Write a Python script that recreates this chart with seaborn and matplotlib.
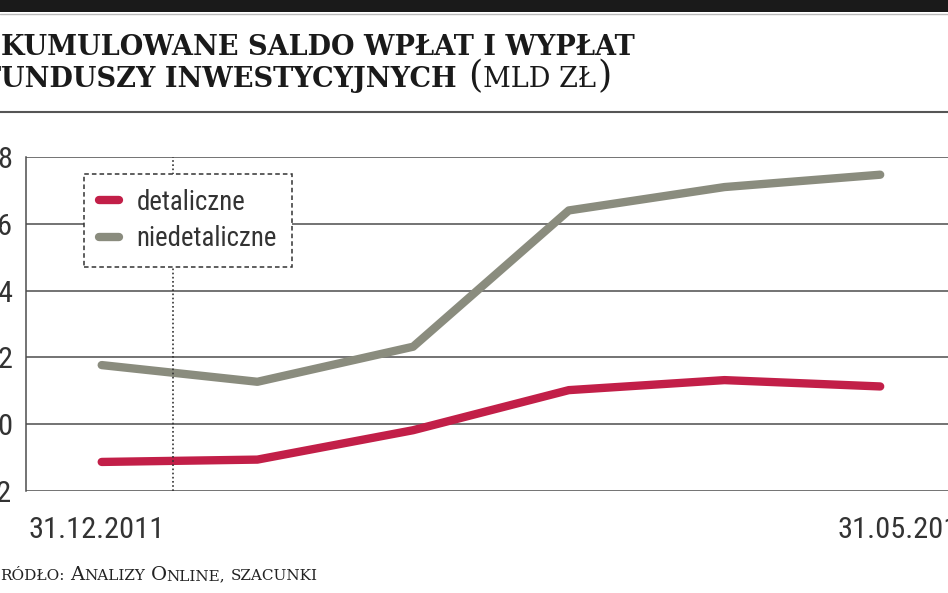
"""
plot.py
Skumulowane saldo wpłat i wypłat funduszy inwestycyjnych (mld zł), line chart.
"""

import numpy as np
import pandas as pd
import matplotlib
matplotlib.use("Agg")
import matplotlib.pyplot as plt
import seaborn as sns
from matplotlib import font_manager
from matplotlib.lines import Line2D
from matplotlib.patches import Rectangle
from matplotlib.textpath import TextPath

# --- data -------------------------------------------------------------------
dates         = ["31.12.2011", "31.01.2012", "29.02.2012",
                 "31.03.2012", "30.04.2012", "31.05.2012"]
detaliczne    = [-1.13, -1.06, -0.18, 1.02, 1.32, 1.13]
niedetaliczne = [1.77, 1.27, 2.32, 6.40, 7.10, 7.47]
series_names  = ["detaliczne", "niedetaliczne"]
series_colors = ["#c21f48", "#8a8c7e"]
y_ticks       = [-2, 0, 2, 4, 6, 8]
x_labels      = ["31.12.2011", "31.05.2012"]

# --- canvas -----------------------------------------------------------------
W, H, DPI = 948, 593, 100
sns.set_style("white")

names  = {f.name for f in font_manager.fontManager.ttflist}
NARROW = next((n for n in ["Liberation Sans Narrow", "DejaVu Sans Condensed",
                           "Roboto Condensed", "Roboto"] if n in names), "DejaVu Sans")
SERIF  = "DejaVu Serif"
plt.rcParams["font.family"] = [NARROW, "DejaVu Sans"]


def fit_size(text, target_px, **font):
    """Font size (pt) that gives `text` an ink width of target_px."""
    fp = font_manager.FontProperties(**font)
    w = TextPath((0, 0), text, size=100, prop=fp).get_extents().width
    return target_px / w * 100 * 72 / DPI


tick_fs   = fit_size("31.12.2011", 129, family=NARROW)
legend_fs = fit_size("niedetaliczne", 138, family=NARROW)
title_fs  = fit_size("KUMULOWANE SALDO WPŁAT I WYPŁAT", 632, family=SERIF, weight="bold")

fig = plt.figure(figsize=(W / DPI, H / DPI), dpi=DPI)
fig.patch.set_facecolor("white")

# plot area: left spine at x=26px, y=8 at 157px, y=-2 at 491px
ax = fig.add_axes([26 / W, (H - 491) / H, (W - 26) / W, 334 / H])

df = pd.DataFrame({
    "i":     list(range(len(dates))) * 2,
    "data":  dates * 2,
    "saldo": detaliczne + niedetaliczne,
    "typ":   [series_names[0]] * len(dates) + [series_names[1]] * len(dates),
})

sns.lineplot(
    data=df, x="i", y="saldo", hue="typ",
    palette=dict(zip(series_names, series_colors)),
    lw=6, solid_capstyle="round", solid_joinstyle="round",
    legend=False, ax=ax, zorder=2,
)

step = 155.7
ax.set_xlim((26 - 101.7) / step, (W - 101.7) / step)
ax.set_ylim(y_ticks[0], y_ticks[-1])
ax.set_yticks(y_ticks)
ax.set_xticks([])
ax.set_xlabel("")
ax.set_ylabel("")
ax.yaxis.grid(True, color="#4d4d4d", lw=1.1)
ax.xaxis.grid(False)
for side in ["top", "right", "bottom"]:
    ax.spines[side].set_visible(False)
ax.spines["left"].set_color("#4d4d4d")
ax.spines["left"].set_linewidth(1.1)
ax.tick_params(axis="y", length=0, pad=10, labelsize=tick_fs, labelcolor="#333333")

# dotted marker line between the first two points
ax.axvline((173 - 101.7) / step, color="#333333", lw=1.2, ls=(0, (1, 1.5)), zorder=3)

# x labels under the first and last point
for x, lab in zip([(28 - 101.7) / step, (837 - 101.7) / step], x_labels):
    ax.annotate(lab, xy=(x, y_ticks[0]), xytext=(0, -34), textcoords="offset points",
                ha="left", va="baseline", fontsize=tick_fs, color="#333333",
                annotation_clip=False)

# legend
handles = [Line2D([], [], color=c, lw=6, solid_capstyle="round") for c in series_colors]
leg = ax.legend(
    handles, series_names, loc="upper left",
    bbox_to_anchor=((84 - 26) / (W - 26), (491 - 174) / 334), borderaxespad=0,
    fancybox=False, framealpha=1, edgecolor="#333333",
    fontsize=legend_fs, handlelength=0.75, handletextpad=0.65,
    borderpad=0.55, labelspacing=0.35,
)
leg.get_frame().set_linestyle((0, (3, 2)))
leg.get_frame().set_linewidth(1.1)
for t in leg.get_texts():
    t.set_color("#333333")
leg.set_zorder(5)


def chain(pieces, x_px, y_px):
    """First piece ends at x_px (cut by the edge), the rest follow on one baseline."""
    s, kw = pieces[0]
    prev = fig.text(x_px / W, 1 - y_px / H, s, ha="right", va="baseline", **kw)
    for s, kw, gap in pieces[1:]:
        prev = ax.annotate(s, xy=(1, 1 - y_px / H), xycoords=(prev, "figure fraction"),
                           xytext=(gap, 0), textcoords="offset points",
                           ha="left", va="baseline", annotation_clip=False, **kw)


bold = dict(family=SERIF, weight="bold", fontsize=title_fs, color="#1a1a1a")
reg  = dict(family=SERIF, fontsize=title_fs, color="#1a1a1a")
par  = dict(family=SERIF, fontsize=title_fs * 1.35, color="#1a1a1a", weight="light")

chain([("S", bold), ("KUMULOWANE SALDO WPŁAT I WYPŁAT", bold, 0)], 1, 55)
chain([("F", bold), ("UNDUSZY INWESTYCYJNYCH", bold, 0),
       ("(", par, 8), ("MLD ZŁ", reg, 1), (")", par, 1)], 1, 87)

big   = dict(family=SERIF, fontsize=14, color="#222222")
small = dict(family=SERIF, fontsize=11, color="#222222")
chain([("Ź", big), ("RÓDŁO:", small, 0), ("A", big, 4), ("NALIZY", small, 0),
       ("O", big, 4), ("NLINE,", small, 0), ("SZACUNKI", small, 4)], 0, 580)

# top black band and rules
fig.add_artist(Rectangle((0, 1 - 12 / H), 1, 12 / H, transform=fig.transFigure,
                         color="#1a1a1a", lw=0))
fig.add_artist(Line2D([0, 1], [1 - 13.5 / H] * 2, transform=fig.transFigure,
                      color="#bbbbbb", lw=1))
fig.add_artist(Line2D([0, 1], [1 - 112 / H] * 2, transform=fig.transFigure,
                      color="#555555", lw=1.5))

fig.savefig("out.png", dpi=DPI)
plt.close(fig)
